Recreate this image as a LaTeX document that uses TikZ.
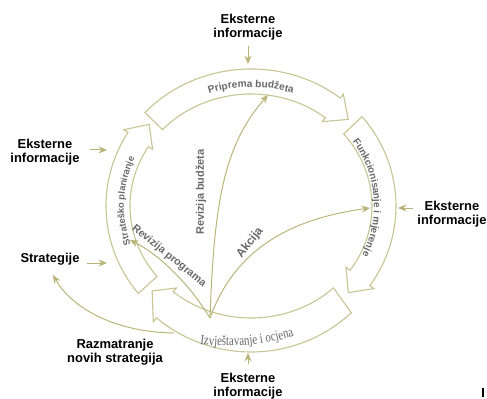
\documentclass[tikz,border=0pt]{standalone}
\usepackage{fontspec}
\setmainfont{Liberation Serif}
\setsansfont{Liberation Sans}
\newfontfamily\evalfont{Liberation Serif}[FakeStretch=0.78]
\usepackage{tikz}
\usetikzlibrary{arrows.meta, decorations.text}
\definecolor{cyclekhaki}{RGB}{202,197,150}
\definecolor{cyclearrow}{RGB}{186,179,120}
\definecolor{cyclegray}{RGB}{105,105,105}

\begin{document}
\begin{tikzpicture}[
    x=0.025cm, y=0.025cm,
    every node/.style={font=\sffamily\bfseries\fontsize{9.2}{10}\selectfont, align=center, inner sep=1pt},
    band/.style={draw=cyclekhaki, line width=0.8pt, fill=white},
    flow/.style={draw=cyclearrow, line width=0.7pt, -{Stealth[length=6pt, width=5pt]}},
    inlabel/.style={font=\sffamily\bfseries\fontsize{7.8}{9}\selectfont, text=cyclegray}
]
\useasboundingbox (0,0) rectangle (487,399);

% Connector end points
\coordinate (src) at (210,81);
\coordinate (budTip) at (268,304);
\coordinate (akcTip) at (370,191);
\coordinate (progTip) at (130,159);
\coordinate (razStart) at (174,66);
\coordinate (razTip) at (53,124);
\coordinate (topIn) at (248,335);
\coordinate (leftIn) at (107,249);
\coordinate (rightIn) at (398,191);
\coordinate (bottomIn) at (248,46);
\coordinate (stratIn) at (107,136);

% Razmatranje novih strategija (under the ring)
\draw[flow] (razStart) .. controls (110,67) and (70,94) .. (razTip);

% Ring of four arrows
\begin{scope}[shift={(251,193)}]
\foreach \start/\neck/\tip/\orx/\ory in {137/52/43/145/137, 40/-35/-43/145/139, -47/-130/-138/147/146, 219/148/140/145/139} {
    \draw[band] (\start:\orx\space and \ory)
        arc[start angle=\start, end angle=\neck, x radius=\orx, y radius=\ory]
        -- (\neck:\orx+5 and \ory+5) -- (\tip:133 and 127) -- (\neck:116 and 107)
        -- (\neck:121 and 112)
        arc[start angle=\neck, end angle=\start, x radius=121, y radius=112]
        -- cycle;
}

% Ring labels
\path[decorate, decoration={text along path, text align=center, text color=cyclegray,
    text={|\sffamily\bfseries\fontsize{7.2}{8}\selectfont|Priprema budžeta}}]
    (125:127 and 119) arc[start angle=125, end angle=55, x radius=127, y radius=119];
\path[decorate, decoration={text along path, text align=center, text color=cyclegray,
    text={|\sffamily\bfseries\fontsize{7}{8}\selectfont|Funkcionisanje i mjerenje}}]
    (45:123 and 115) arc[start angle=45, end angle=-36, x radius=123, y radius=115];
\path[decorate, decoration={text along path, text align=center, text color=cyclegray,
    text={|\sffamily\bfseries\fontsize{6.6}{8}\selectfont|Strateško planiranje}}]
    (218:127 and 119) arc[start angle=218, end angle=137, x radius=127, y radius=119];
\end{scope}
\path[decorate, decoration={text along path, text align=center, text color=cyclegray,
    text={|\evalfont\fontsize{10}{11}\selectfont|Izvještavanje i ocjena}}]
    (196,55) .. controls (228,51) and (264,53) .. (298,64);

% Inner arrows
\draw[flow] (src) .. controls (214,200) and (225,255) .. (budTip);
\draw[flow] (src) .. controls (235,150) and (290,180) .. (akcTip);
\draw[flow] (src) .. controls (190,114) and (160,144) .. (progTip);

\node[inlabel, rotate=90] (revBud) at (201,207) {Revizija budžeta};
\node[inlabel, rotate=52, font=\sffamily\bfseries\fontsize{8.5}{9}\selectfont] (akcija) at (250,156) {Akcija};
\node[inlabel, rotate=-39, font=\sffamily\bfseries\fontsize{7.6}{9}\selectfont] (revProg) at (169,143) {Revizija programa};

% Outside labels
\node (extTop) at (248,372) {Eksterne\\informacije};
\node (extLeft) at (45,247) {Eksterne\\informacije};
\node (extRight) at (452,185) {Eksterne\\informacije};
\node (extBottom) at (248,13) {Eksterne\\informacije};
\node (strat) at (50,140) {Strategije};
\node (newStrat) at (115,47) {Razmatranje\\novih strategija};

\draw[flow, shorten <=3pt] (extTop.south -| topIn) -- (topIn);
\draw[flow, shorten <=6pt] (extLeft.east |- leftIn) -- (leftIn);
\draw[flow, shorten <=2pt] (extRight.west |- rightIn) -- (rightIn);
\draw[flow, shorten <=5pt] (extBottom.north -| bottomIn) -- (bottomIn);
\draw[flow, shorten <=4pt] (strat.east |- stratIn) -- (stratIn);

% mark in the corner
\draw[line width=1pt] (483,2) -- (483,11);

\end{tikzpicture}
\end{document}
